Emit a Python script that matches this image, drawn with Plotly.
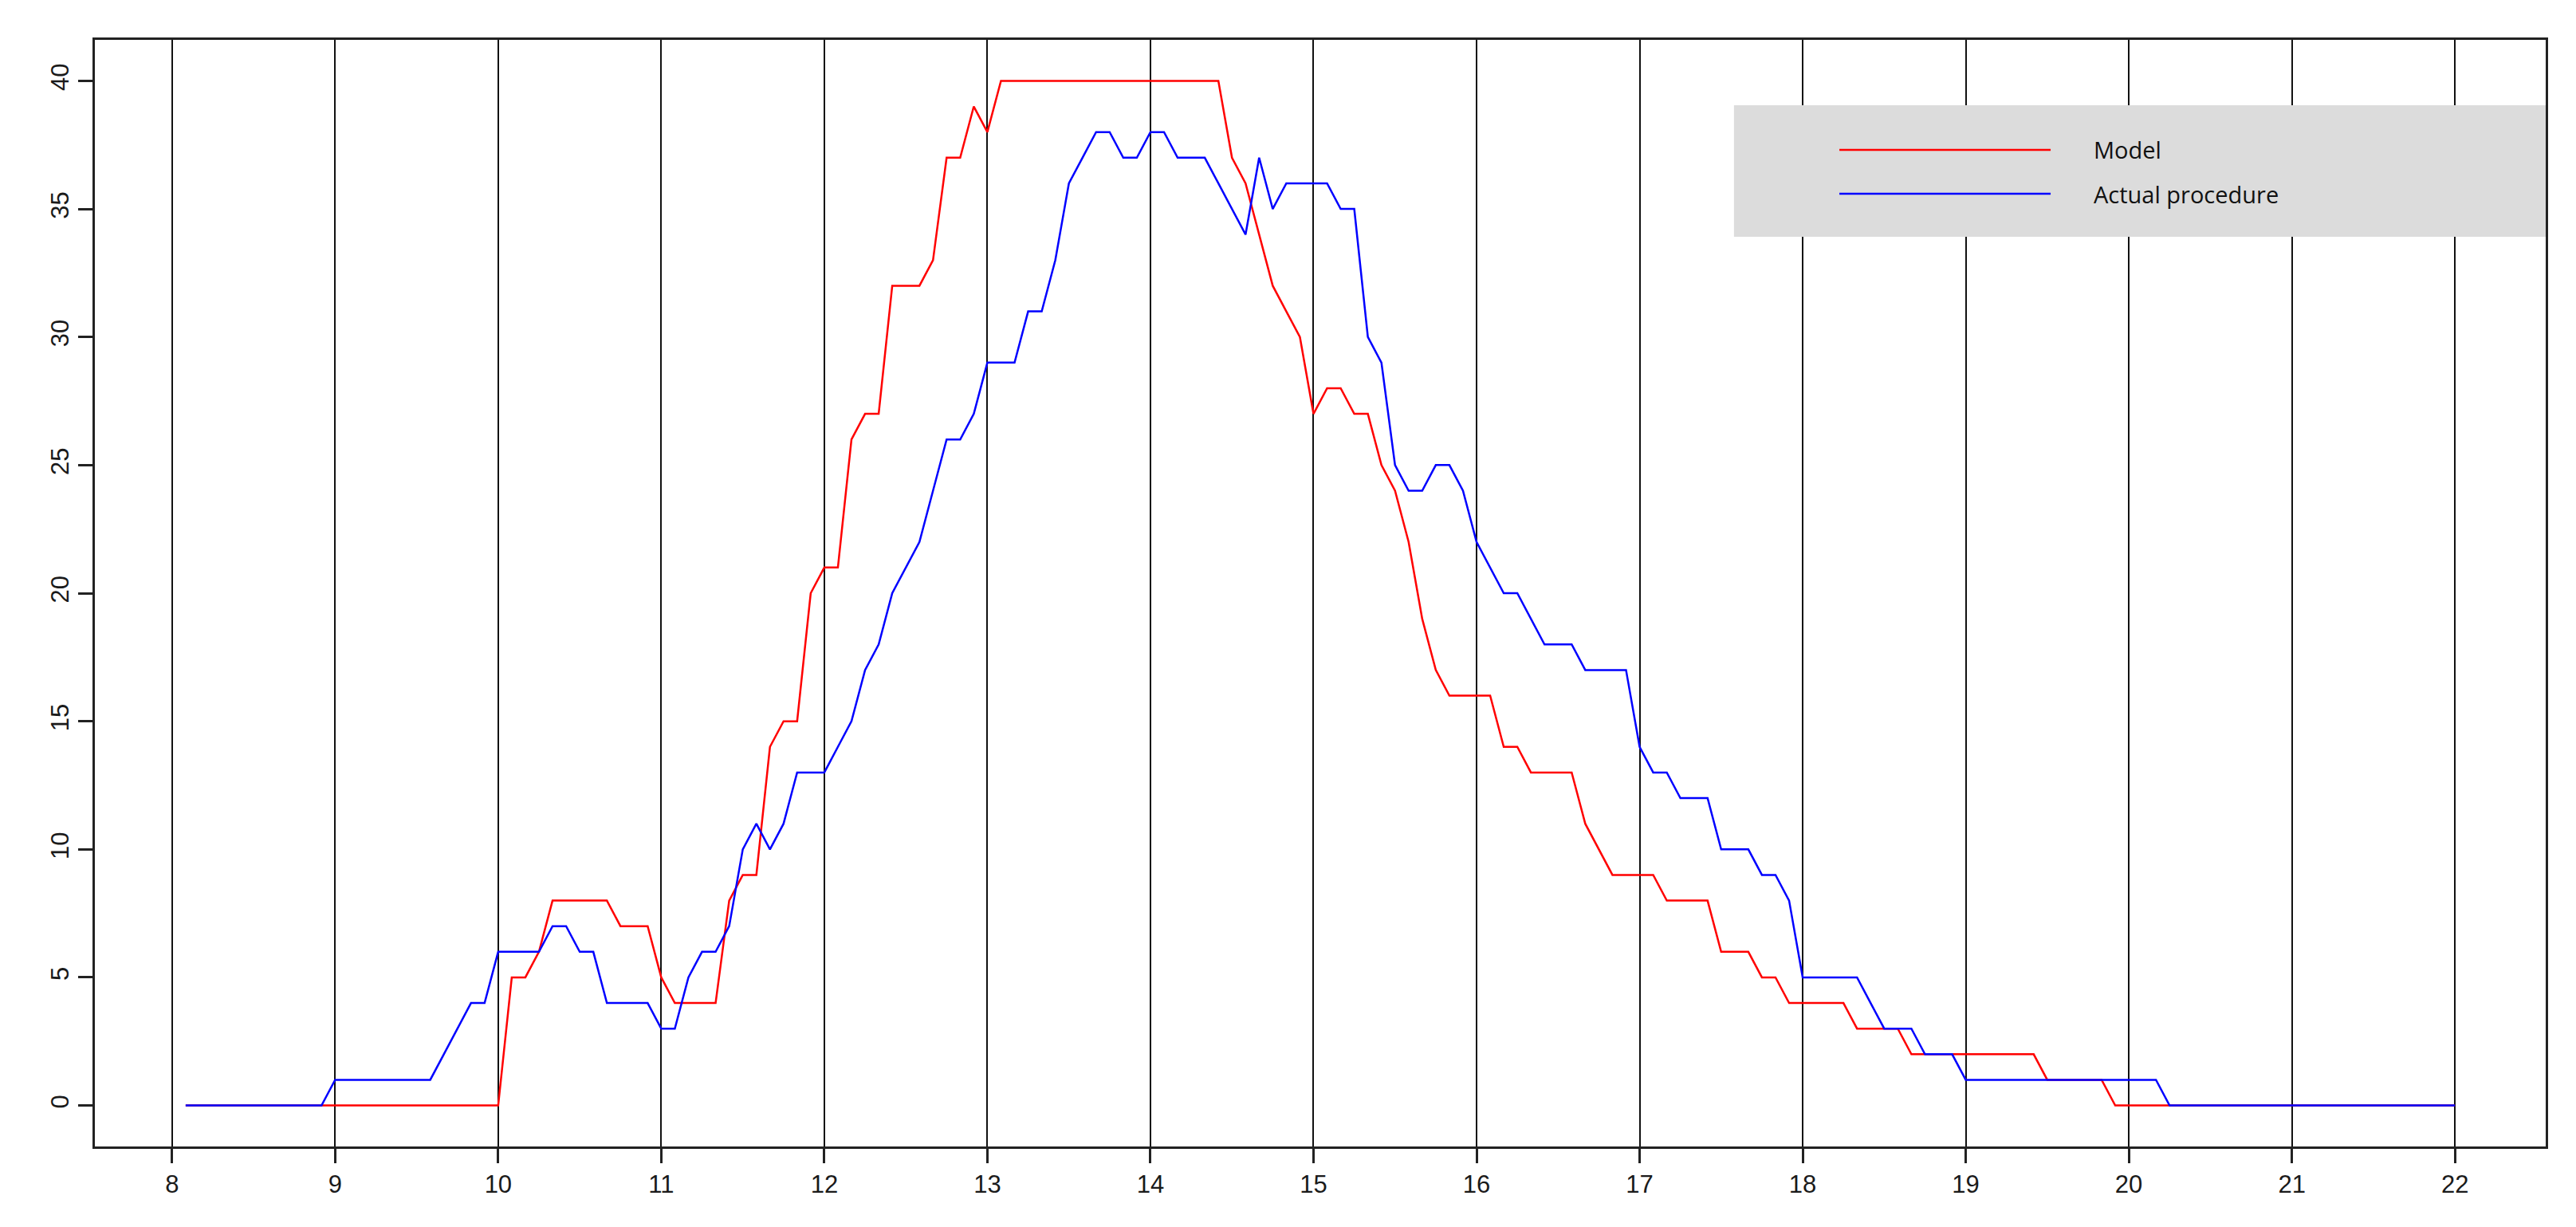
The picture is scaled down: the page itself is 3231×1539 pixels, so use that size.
import numpy as np
import plotly.graph_objects as go

# readings every 5 minutes, from 8:05 to 22:00 (one row per hour)
start_hour = 8
step_hours = 5 / 60

model_counts = [
    0, 0, 0, 0, 0, 0, 0, 0, 0, 0, 0, 0,              # 8
    0, 0, 0, 0, 0, 0, 0, 0, 0, 0, 0, 0,              # 9
    5, 5, 6, 8, 8, 8, 8, 8, 7, 7, 7, 5,              # 10
    4, 4, 4, 4, 8, 9, 9, 14, 15, 15, 20, 21,         # 11
    21, 26, 27, 27, 32, 32, 32, 33, 37, 37, 39, 38,  # 12
    40, 40, 40, 40, 40, 40, 40, 40, 40, 40, 40, 40,  # 13
    40, 40, 40, 40, 40, 37, 36, 34, 32, 31, 30, 27,  # 14
    28, 28, 27, 27, 25, 24, 22, 19, 17, 16, 16, 16,  # 15
    16, 14, 14, 13, 13, 13, 13, 11, 10, 9, 9, 9,     # 16
    9, 8, 8, 8, 8, 6, 6, 6, 5, 5, 4, 4,              # 17
    4, 4, 4, 3, 3, 3, 3, 2, 2, 2, 2, 2,              # 18
    2, 2, 2, 2, 2, 1, 1, 1, 1, 1, 0, 0,              # 19
    0, 0, 0, 0, 0, 0, 0, 0, 0, 0, 0, 0,              # 20
    0, 0, 0, 0, 0, 0, 0, 0, 0, 0, 0, 0,              # 21
]

actual_counts = [
    0, 0, 0, 0, 0, 0, 0, 0, 0, 0, 0, 1,              # 8
    1, 1, 1, 1, 1, 1, 1, 2, 3, 4, 4, 6,              # 9
    6, 6, 6, 7, 7, 6, 6, 4, 4, 4, 4, 3,              # 10
    3, 5, 6, 6, 7, 10, 11, 10, 11, 13, 13, 13,       # 11
    14, 15, 17, 18, 20, 21, 22, 24, 26, 26, 27, 29,  # 12
    29, 29, 31, 31, 33, 36, 37, 38, 38, 37, 37, 38,  # 13
    38, 37, 37, 37, 36, 35, 34, 37, 35, 36, 36, 36,  # 14
    36, 35, 35, 30, 29, 25, 24, 24, 25, 25, 24, 22,  # 15
    21, 20, 20, 19, 18, 18, 18, 17, 17, 17, 17, 14,  # 16
    13, 13, 12, 12, 12, 10, 10, 10, 9, 9, 8, 5,      # 17
    5, 5, 5, 5, 4, 3, 3, 3, 2, 2, 2, 1,              # 18
    1, 1, 1, 1, 1, 1, 1, 1, 1, 1, 1, 1,              # 19
    1, 1, 0, 0, 0, 0, 0, 0, 0, 0, 0, 0,              # 20
    0, 0, 0, 0, 0, 0, 0, 0, 0, 0, 0, 0,              # 21
]

series_names = ["Model", "Actual procedure"]
series_colors = ["#ff0000", "#0000ff"]

x_ticks = list(range(8, 23))
y_ticks = [0, 5, 10, 15, 20, 25, 30, 35, 40]

hours = start_hour + step_hours * np.arange(1, len(model_counts) + 1)

fig = go.Figure()
for name, counts, color in zip(series_names, [model_counts, actual_counts], series_colors):
    fig.add_trace(go.Scatter(x=hours, y=counts, name=name, mode="lines",
                             line=dict(color=color, width=2.5), showlegend=False))

# R style: 4% padding around the data
x_pad = (hours[-1] - hours[0]) * 0.04
y_pad = (max(model_counts) - 0) * 0.04

tick_font = dict(family="Liberation Sans, Arial, sans-serif", size=31, color="#1a1a1a")

fig.update_xaxes(range=[hours[0] - x_pad, hours[-1] + x_pad], tickvals=x_ticks,
                 showgrid=True, gridcolor="#111111", gridwidth=2, zeroline=False,
                 showline=True, mirror=True, linecolor="#222222", linewidth=2.5,
                 ticks="outside", ticklen=18, tickwidth=2.5, tickcolor="#222222",
                 tickfont=tick_font)
fig.update_yaxes(range=[0 - y_pad, max(model_counts) + y_pad], tickvals=y_ticks,
                 showgrid=False, zeroline=False, tickangle=-90,
                 showline=True, mirror=True, linecolor="#222222", linewidth=2.5,
                 ticks="outside", ticklen=18, tickwidth=2.5, tickcolor="#222222",
                 tickfont=tick_font)

# grey legend panel drawn by hand (long sample lines like the original)
legend_font = dict(family="Open Sans, sans-serif", size=29, color="#111111")
shapes = [dict(type="rect", xref="paper", yref="paper", x0=0.6688, x1=1.0, y0=0.822, y1=0.9409,
               fillcolor="#dcdcdc", line=dict(width=0), layer="above")]
annotations = []
for name, color, ly in zip(series_names, series_colors, [0.9006, 0.8609]):
    shapes.append(dict(type="line", xref="paper", yref="paper", x0=0.7118, x1=0.7980, y0=ly, y1=ly,
                       line=dict(color=color, width=2.5), layer="above"))
    annotations.append(dict(text=name, xref="paper", yref="paper", x=0.8150, y=ly,
                            xanchor="left", yanchor="middle", showarrow=False, font=legend_font))

fig.update_layout(width=3215, height=1523, margin=dict(l=111, r=30, t=42, b=93),
                  paper_bgcolor="white", plot_bgcolor="white",
                  shapes=shapes, annotations=annotations)

fig.write_html("out.html")
